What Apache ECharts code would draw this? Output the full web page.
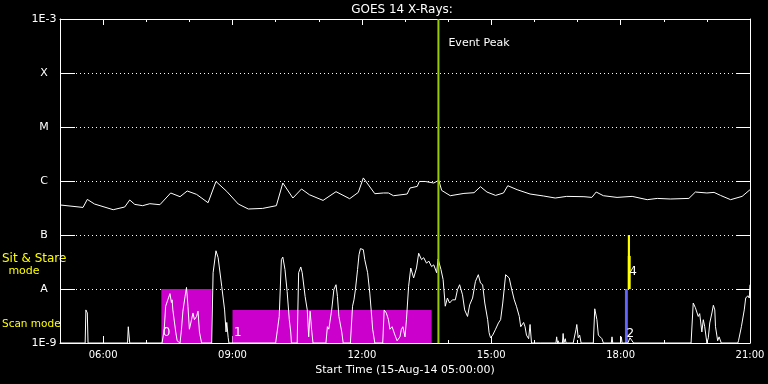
<!DOCTYPE html>
<html>
<head>
<meta charset="utf-8">
<script src="https://cdn.jsdelivr.net/npm/echarts/dist/echarts.min.js"></script>
<style>
html,body{margin:0;padding:0;background:#000;}
#c{width:768px;height:384px;}
</style>
</head>
<body>
<div id="c"></div>
<script>
// ---- data (time in minutes since 15-Aug-14 05:00, flux in W/m^2) ----
const xTickMinutes = [60, 240, 420, 600, 780, 960];
const yTickLabels = ['1E-9', 'A', 'B', 'C', 'M', 'X', '1E-3'];
const eventPeakMinute = 526.5;

const longChannel = [
  [0,3.6e-7],[32,3.24e-7],[38,4.56e-7],[48,3.75e-7],[74,2.94e-7],[90,3.3e-7],[97,4.45e-7],[104,3.69e-7],
  [115,3.49e-7],[125,3.8e-7],[139,3.64e-7],[154,6.0e-7],[167,5.12e-7],[177,6.53e-7],[190,5.65e-7],[206,3.96e-7],
  [217,9.8e-7],[232,6.42e-7],[248,3.75e-7],[262,3.03e-7],[282,3.11e-7],[301,3.49e-7],[310,9.18e-7],[324,4.84e-7],
  [336,7.11e-7],[347,5.57e-7],[366,4.37e-7],[384,6.34e-7],[403,4.7e-7],[415,6.15e-7],[422,1.14e-6],[438,5.82e-7],
  [450,6.0e-7],[457,6.0e-7],[464,5.34e-7],[483,5.74e-7],[487,7.42e-7],[497,7.94e-7],[500,9.8e-7],[508,9.8e-7],
  [520,9.18e-7],[527,1.03e-6],[531,6.7e-7],[543,5.34e-7],[562,5.89e-7],[576,6.07e-7],[585,7.84e-7],[594,6.25e-7],
  [606,5.41e-7],[617,6.0e-7],[623,8.18e-7],[636,6.9e-7],[654,5.74e-7],[673,5.27e-7],[689,4.84e-7],[705,5.19e-7],
  [729,5.12e-7],[740,4.97e-7],[746,6.25e-7],[756,5.34e-7],[775,4.97e-7],[796,5.19e-7],[817,4.51e-7],[831,4.76e-7],
  [849,4.64e-7],[875,4.76e-7],[884,6.25e-7],[900,6.0e-7],[910,6.15e-7],[919,5.41e-7],[933,4.51e-7],[949,5.19e-7],
  [960,6.9e-7]
];

const shortChannel = [
  [0,1e-9],[35,1e-9],[36,4.1e-9],[38,3.6e-9],[39,1e-9],
  [94,1e-9],[95,2.0e-9],[97,1e-9],
  [142,1e-9],[145,1.8e-9],[147,4.8e-9],[150,6.3e-9],[153,8.2e-9],[155,5.6e-9],[156,6.3e-9],[157,4.1e-9],[161,1.6e-9],[163,1.1e-9],[167,1e-9],
  [169,1.8e-9],[171,3.9e-9],[174,7.3e-9],[176,1.07e-8],[178,4.8e-9],[180,1.8e-9],[183,2.7e-9],[185,3.6e-9],[187,2.7e-9],[190,3.1e-9],[192,3.9e-9],[194,1.6e-9],[197,1e-9],
  [211,1e-9],[213,2.0e-8],[217,5.1e-8],[220,3.8e-8],[225,1.12e-8],[229,4.1e-9],[231,1.6e-9],[232,2.4e-9],[234,1.25e-9],[235,1e-9],
  [300,1e-9],[305,3.1e-9],[308,3.5e-8],[310,3.9e-8],[313,2.3e-8],[316,9.0e-9],[319,2.7e-9],[321,1.6e-9],[322,1e-9],
  [330,1e-9],[332,2.0e-8],[335,2.56e-8],[337,2.0e-8],[341,7.3e-9],[344,4.1e-9],[346,1.3e-9],[348,3.9e-9],[350,1.8e-9],[352,1e-9],
  [370,1e-9],[372,2.0e-9],[374,1.8e-9],[378,4.1e-9],[381,9.7e-9],[384,1.2e-8],[386,7.3e-9],[388,3.1e-9],[392,1.6e-9],[394,1e-9],
  [404,1e-9],[407,4.8e-9],[409,6.3e-9],[411,9.7e-9],[414,2.3e-8],[416,4.3e-8],[418,5.6e-8],[422,5.35e-8],[424,3.5e-8],[428,2.0e-8],[431,8.4e-9],[434,2.7e-9],[435,1.8e-9],[438,1e-9],
  [449,1e-9],[451,4.1e-9],[454,3.6e-9],[457,2.7e-9],[459,1.8e-9],[462,2.0e-9],[466,1.4e-9],[469,1.1e-9],[473,1.3e-9],[475,1.8e-9],[477,2.0e-9],[480,1.3e-9],
  [482,2.7e-9],[485,1.12e-8],[488,2.45e-8],[492,1.6e-8],[496,2.45e-8],[499,4.6e-8],[503,3.5e-8],[506,3.8e-8],[510,3.0e-8],[513,3.3e-8],[517,2.6e-8],[520,2.8e-8],
  [524,2.0e-8],[526,3.6e-8],[530,2.3e-8],[533,1.5e-8],[536,4.8e-9],[539,6.8e-9],[542,5.5e-9],[546,6.3e-9],[550,6.3e-9],[553,9.7e-9],[556,1.2e-8],[560,7.8e-9],
  [563,4.1e-9],[567,3.1e-9],[570,5.1e-9],[574,6.8e-9],[578,1.38e-8],[582,1.84e-8],[585,1.29e-8],[588,1.2e-8],[591,5.5e-9],[595,2.7e-9],[597,1.55e-9],[599,1.25e-9],
  [602,1.4e-9],[606,1.8e-9],[610,2.35e-9],[613,2.7e-9],[616,5.5e-9],[620,1.84e-8],[622,1.92e-8],[625,1.6e-8],[628,1.04e-8],[632,6.3e-9],[635,4.8e-9],[639,3.1e-9],
  [641,2.0e-9],[645,2.4e-9],[647,2.0e-9],[649,1.4e-9],[652,1.2e-9],[654,2.2e-9],[656,1e-9],
  [669,1e-9],[670,1.05e-9],[672,1e-9],
  [690,1e-9],[691,1.3e-9],[692,1e-9],[693,1.1e-9],[694,1e-9],[699,1e-9],[700,1.5e-9],[701,1e-9],[703,1.2e-9],[704,1e-9],
  [714,1e-9],[718,1.8e-9],[719,2.2e-9],[721,1.25e-9],[723,1.4e-9],[725,1e-9],
  [742,1e-9],[744,4.3e-9],[747,2.7e-9],[749,1.4e-9],[751,1.3e-9],[754,1.2e-9],[756,1e-9],
  [767,1e-9],[768,1.3e-9],[769,1e-9],
  [780,1e-9],[781,1.3e-9],[782,1e-9],
  [790,1e-9],[793,1.25e-9],[795,1.3e-9],[798,1e-9],
  [840,1e-9],[841,1.05e-9],[842,1e-9],
  [878,1e-9],[881,5.5e-9],[884,4.5e-9],[888,3.1e-9],[890,3.5e-9],[893,1.6e-9],[895,2.7e-9],[897,2.0e-9],[900,1e-9],[902,1.25e-9],[904,2.35e-9],[907,3.6e-9],
  [909,5.0e-9],[911,4.1e-9],[912,2.0e-9],[915,1.1e-9],[917,1.3e-9],[920,1e-9],
  [943,1e-9],[944,1.1e-9],[948,2.0e-9],[952,4.1e-9],[954,6.8e-9],[957,7.5e-9],[959,6.8e-9],[960,1.2e-8]
];

// observation blocks
const obsStart = [141, 240, 786, 790, 790];
const obsEnd   = [211, 517, 790, 793, 794];
const obsLow   = [1e-9, 1e-9, 1e-9, 1e-8, 1e-8];
const obsHigh  = [1e-8, 4.1e-9, 1e-8, 1e-7, 4.1e-8];
const obsLabel = ['0', '1', '2', '', '4'];
const obsLabelAt = [1.55e-9, 1.55e-9, 1.5e-9, null, 2.1e-8];
const obsColor = ['#cc00cc', '#cc00cc', '#6464ff', '#ffff00', '#ffff00'];

// ---- chart ----
const white = '#ffffff';
const FONT = '"DejaVu Sans"';
const fmtHour = v => String(5 + Math.round(v / 60)).padStart(2, '0') + ':00';
const chart = echarts.init(document.getElementById('c'), null, {renderer: 'canvas'});

const obsData = obsStart.map((s, i) => [s, obsEnd[i], obsLow[i], obsHigh[i]]);

const option = {
  backgroundColor: '#000000',
  animation: false,
  textStyle: {fontFamily: FONT},
  grid: {left: 60, right: 18, top: 19, bottom: 41, containLabel: false},
  xAxis: [
    {
      type: 'value', position: 'bottom', min: 0, max: 960,
      axisLine: {show: true, onZero: false, lineStyle: {color: white, width: 1}},
      axisTick: {show: true, inside: true, length: 7, customValues: xTickMinutes, lineStyle: {color: white}},
      axisLabel: {show: true, customValues: xTickMinutes, formatter: fmtHour, color: white, fontSize: 10, margin: 7, fontFamily: FONT},
      splitLine: {show: false},
      name: 'Start Time (15-Aug-14 05:00:00)', nameLocation: 'middle', nameGap: 19,
      nameTextStyle: {color: white, fontSize: 11, fontFamily: FONT}
    },
    {
      type: 'value', position: 'bottom', min: 0, max: 960, interval: 60,
      axisLine: {show: false, onZero: false},
      axisTick: {show: true, inside: true, length: 3, lineStyle: {color: white}},
      axisLabel: {show: false}, splitLine: {show: false}
    },
    {
      type: 'value', position: 'top', min: 0, max: 960,
      axisLine: {show: true, onZero: false, lineStyle: {color: white, width: 1}},
      axisTick: {show: true, inside: true, length: 6, customValues: xTickMinutes, lineStyle: {color: white}},
      axisLabel: {show: false}, splitLine: {show: false}
    },
    {
      type: 'value', position: 'top', min: 0, max: 960, interval: 60,
      axisLine: {show: false, onZero: false},
      axisTick: {show: true, inside: true, length: 3, lineStyle: {color: white}},
      axisLabel: {show: false}, splitLine: {show: false}
    }
  ],
  yAxis: [
    {
      type: 'log', logBase: 10, min: 1e-9, max: 1e-3, interval: 1, position: 'left',
      axisLine: {show: true, onZero: false, lineStyle: {color: white, width: 1}},
      axisTick: {show: true, inside: true, length: 15, lineStyle: {color: white}},
      axisLabel: {
        color: white, fontSize: 11, align: 'center', margin: 16, fontFamily: FONT,
        formatter: v => yTickLabels[Math.round(Math.log10(v)) + 9]
      },
      splitLine: {show: true, lineStyle: {color: white, type: [1, 3], width: 1}},
      minorTick: {show: false}, minorSplitLine: {show: false}
    },
    {
      type: 'log', logBase: 10, min: 1e-9, max: 1e-3, interval: 1, position: 'right',
      axisLine: {show: true, onZero: false, lineStyle: {color: white, width: 1}},
      axisTick: {show: true, inside: true, length: 14, lineStyle: {color: white}},
      axisLabel: {show: false}, splitLine: {show: false}
    }
  ],
  graphic: [
    {type: 'text', x: 402, y: 10, style: {text: 'GOES 14 X-Rays:', fill: white, font: '12px ' + FONT, align: 'center', verticalAlign: 'middle'}},
    {type: 'text', x: 2, y: 259, style: {text: 'Sit & Stare', fill: '#ffff00', font: '12px ' + FONT, align: 'left', verticalAlign: 'middle'}},
    {type: 'text', x: 24, y: 271, style: {text: 'mode', fill: '#ffff00', font: '11px ' + FONT, align: 'center', verticalAlign: 'middle'}},
    {type: 'text', x: 2, y: 324, style: {text: 'Scan mode', fill: '#ffff00', font: '10.5px ' + FONT, align: 'left', verticalAlign: 'middle'}}
  ],
  series: [
    {
      type: 'custom', name: 'obs', z: 2, xAxisIndex: 0, yAxisIndex: 0,
      data: obsData, encode: {x: [0, 1], y: [2, 3]},
      renderItem: function (params, api) {
        const i = params.dataIndex;
        const p0 = api.coord([api.value(0), api.value(3)]);
        const p1 = api.coord([api.value(1), api.value(2)]);
        const children = [{
          type: 'rect',
          shape: {x: p0[0], y: p0[1], width: p1[0] - p0[0], height: p1[1] - p0[1]},
          style: {fill: obsColor[i]}
        }];
        if (obsLabel[i]) {
          const pl = api.coord([api.value(0), obsLabelAt[i]]);
          children.push({
            type: 'text',
            style: {text: obsLabel[i], x: pl[0] + 1.5, y: pl[1], fill: white, font: '12px ' + FONT, verticalAlign: 'middle'}
          });
        }
        return {type: 'group', children: children};
      }
    },
    {
      type: 'line', name: 'long', z: 3, data: longChannel, showSymbol: false, symbol: 'none',
      clip: false, lineStyle: {color: white, width: 1}, itemStyle: {color: white}
    },
    {
      type: 'line', name: 'short', z: 3, data: shortChannel, showSymbol: false, symbol: 'none',
      clip: false, lineStyle: {color: white, width: 1}, itemStyle: {color: white}
    },
    {
      type: 'custom', name: 'event', z: 10, data: [[eventPeakMinute, 1e-3]], encode: {x: 0, y: 1},
      renderItem: function (params, api) {
        const top = api.coord([api.value(0), 1e-3]);
        const bot = api.coord([api.value(0), 1e-9]);
        return {type: 'group', children: [
          {type: 'line', shape: {x1: top[0], y1: top[1], x2: bot[0], y2: bot[1]}, style: {stroke: '#99cc00', lineWidth: 2}},
          {type: 'text', style: {text: 'Event Peak', x: top[0] + 10, y: top[1] + 24, fill: white, font: '11px ' + FONT, verticalAlign: 'middle'}}
        ]};
      }
    }
  ]
};
chart.setOption(option);
</script>
</body>
</html>
